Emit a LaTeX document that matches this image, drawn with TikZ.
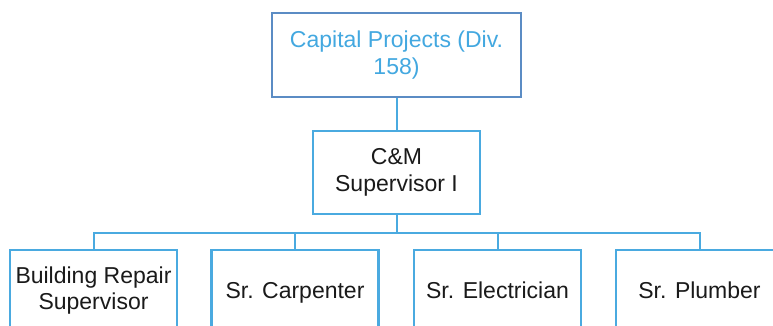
\documentclass[tikz,border=0pt]{standalone}
\usepackage{fontspec}
\setmainfont{Liberation Sans}
\definecolor{headblue}{HTML}{5B8CC4}
\definecolor{lineblue}{HTML}{4AAAE0}
\definecolor{headtext}{HTML}{43A8E0}
\definecolor{bodytext}{HTML}{1A1A1A}
\begin{document}
\begin{tikzpicture}[x=1pt,y=-1pt,
  orgbox/.style={draw=lineblue, line width=2.2pt, fill=white, align=center,
    inner sep=0pt, font=\fontsize{23}{26.5}\selectfont, text=bodytext},
  headbox/.style={orgbox, draw=headblue, line width=2.6pt, text=headtext,
    minimum width=249pt, minimum height=84pt},
  midbox/.style={orgbox, minimum width=167pt, minimum height=83pt},
  leafbox/.style={orgbox, minimum width=167pt, minimum height=81pt},
  oneline/.style={text height=20pt, text depth=4.5pt},
  link/.style={draw=lineblue, line width=2pt}]
\useasboundingbox (0,0) rectangle (773,326);
\clip (0,0) rectangle (773,326);

% top unit
\node[headbox] (top) at (396.5,55) {Capital Projects (Div.\\158)};
% supervisor
\node[midbox] (mid) at (396.5,172.5) {C\&M\\Supervisor I};
% trades
\node[leafbox] (b1) at (93.5,290.5) {Building Repair\\Supervisor};
\node[leafbox, oneline] (b2) at (295,290.5) {Sr. Carpenter};
\node[leafbox, oneline] (b3) at (497.5,290.5) {Sr. Electrician};
\node[leafbox, oneline] (b4) at (699.5,290.5) {Sr. Plumber};

% connectors
\coordinate (bus) at (396.5,233);
\draw[link] (top.south) -- (mid.north);
\draw[link] (mid.south) -- (bus);
\draw[link] (bus) -| (b1.north);
\draw[link] (bus) -| (b2.north);
\draw[link] (bus) -| (b3.north);
\draw[link] (bus) -| (b4.north);
\end{tikzpicture}
\end{document}
